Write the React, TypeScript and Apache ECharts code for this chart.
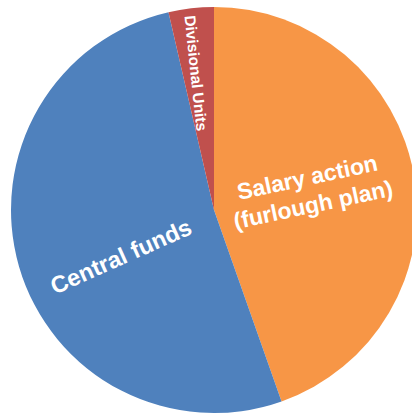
import React, { useEffect, useRef } from "react";
import * as echarts from "echarts";

const categories = ["Salary action\n(furlough plan)", "Central funds", "Divisional Units"];
const values = [44.6, 51.8, 3.6];
const colors = ["#F79646", "#4F81BD", "#C0504D"];

const CX = 214;
const CY = 210;
const R = 203;

export default function App() {
  const ref = useRef<HTMLDivElement>(null);
  useEffect(() => {
    const chart = echarts.init(ref.current!, null, { renderer: "svg" });
    const labelCfg = [
      { rotate: 12, fontSize: 23, fontWeight: "bold", lineHeight: 28 },
      { rotate: 24, fontSize: 23.5, fontWeight: "bold" },
      { rotate: -84, fontSize: 15.5, fontWeight: "bold" },
    ];
    // label placement: radial distance and angular offset from slice mid-angle
    const place = [
      { rr: 98, dth: -1.5 },
      { rr: 104, dth: -10.4 },
      { rr: 138, dth: -1 },
    ];
    const total = values.reduce((a, b) => a + b, 0);
    const mids: number[] = [];
    let acc = 0;
    values.forEach((v) => {
      mids.push(((acc + v / 2) / total) * 360);
      acc += v;
    });
    chart.setOption({
      animation: false,
      series: [
        {
          type: "pie",
          center: [CX, CY],
          radius: R,
          startAngle: 90,
          clockwise: true,
          itemStyle: { borderWidth: 0 },
          labelLine: { show: false },
          emphasis: { disabled: true },
          labelLayout: (p: any) => {
            const i = p.dataIndex;
            const th = ((mids[i] + place[i].dth) * Math.PI) / 180;
            return {
              x: CX + place[i].rr * Math.sin(th),
              y: CY - place[i].rr * Math.cos(th),
              align: "center",
              verticalAlign: "middle",
            };
          },
          data: categories.map((name, i) => ({
            name,
            value: values[i],
            itemStyle: { color: colors[i] },
            label: {
              show: true,
              position: "inside",
              formatter: "{b}",
              color: "#ffffff",
              fontFamily: "Liberation Sans, Arial, sans-serif",
              align: "center",
              verticalAlign: "middle",
              ...labelCfg[i],
            },
          })),
        },
      ],
    });
    return () => chart.dispose();
  }, []);
  return (
    <div
      ref={ref}
      style={{ position: "fixed", left: 0, top: 0, width: 412, height: 416, background: "#fff" }}
    />
  );
}
